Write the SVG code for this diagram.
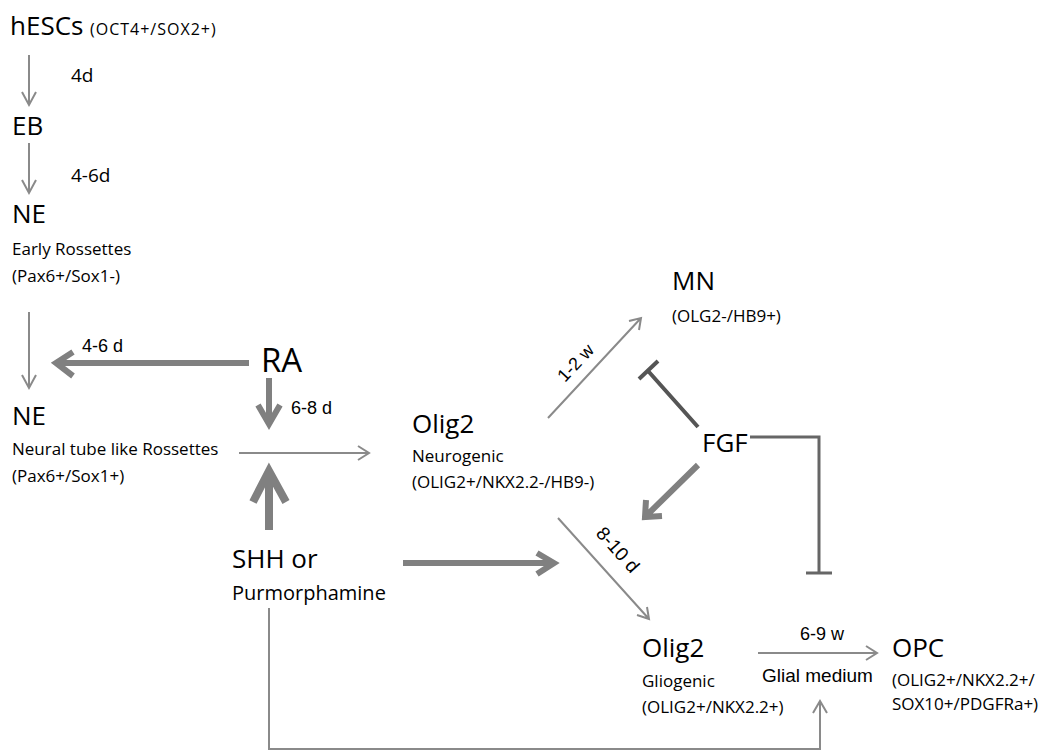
<svg xmlns="http://www.w3.org/2000/svg" width="1044" height="751" viewBox="0 0 1044 751">
<defs>
<style>
.t{font-family:"Open Sans","Noto Sans","DejaVu Sans",sans-serif;fill:#000}
.a{font-family:"Liberation Sans",Arial,sans-serif;fill:#000}
.big{font-size:26px}
.sm{font-size:17px}
.lb{font-size:18px}
.thin{stroke:#8a8a8a;stroke-width:2;fill:none}
.thick{stroke:#808080;stroke-width:6;fill:none}
.thicker{stroke:#808080;stroke-width:8;fill:none}
.inh{stroke:#555;stroke-width:4;fill:none}
.inh2{stroke:#666;stroke-width:3;fill:none}
</style>
</defs>
<rect width="1044" height="751" fill="#fff"/>

<g id="connectors">
  <path class="thin" d="M29 55 V105 M22 92 L29 105 L36 92"/>
  <path class="thin" d="M29 143 V193 M22 180 L29 193 L36 180"/>
  <path class="thin" d="M29 312 V388 M22 375 L29 388 L36 375"/>
  <path class="thick" d="M249 363 H56 M73 352 L56 363 L73 376"/>
  <path class="thick" d="M269 378 V424 M258 405 L269 424 L280 405"/>
  <path class="thin" d="M239 453 H369 M358 446 L369 453 L358 460"/>
  <path class="thicker" d="M269 530 V471 M253 502 L269 471 L286 502"/>
  <path class="thick" d="M403 563 H554 M537 553 L554 563 L537 574"/>
  <path class="thin" d="M269 608 V749 H820 V701 M813 713 L820 701 L827 713"/>
  <path class="thin" d="M548 418 L641 318 M629 321 L641 318 L639 330"/>
  <path class="thin" d="M558 518 L649 619 M637 615 L649 619 L647 607"/>
  <path class="thick" d="M698 465 L645 517 M646 500 L645 517 L662 516"/>
  <path class="inh" d="M698 427 L649 372 M639 379 L658 361"/>
  <path class="inh2" d="M750 437 H819 V573 M806 573 H832"/>
  <path class="thin" d="M758 653 H877 M866 646 L877 653 L866 660"/>
</g>

<g id="node-hESCs">
  <text class="t" x="10" y="35" font-size="26">hESCs</text>
  <text class="t" x="90" y="35" font-size="16" letter-spacing="1">(OCT4+/SOX2+)</text>
</g>
<g id="label-4d"><text class="t" x="71" y="82" font-size="19">4d</text></g>
<g id="node-EB"><text class="t big" x="12" y="135">EB</text></g>
<g id="label-4-6d"><text class="t" x="71" y="182" font-size="19">4-6d</text></g>
<g id="node-NE-early">
  <text class="t big" x="12" y="223">NE</text>
  <text class="t sm" x="12" y="255">Early Rossettes</text>
  <text class="t sm" x="12" y="282">(Pax6+/Sox1-)</text>
</g>
<g id="label-4-6-d"><text class="a lb" x="82" y="352">4-6 d</text></g>
<g id="node-RA"><text class="t" x="261" y="372" font-size="33">RA</text></g>
<g id="label-6-8-d"><text class="a lb" x="291" y="414">6-8 d</text></g>
<g id="node-NE-tube">
  <text class="t big" x="12" y="425">NE</text>
  <text class="t sm" x="12" y="455">Neural tube like Rossettes</text>
  <text class="t sm" x="12" y="482">(Pax6+/Sox1+)</text>
</g>
<g id="node-SHH">
  <text class="t big" x="232" y="568">SHH or</text>
  <text class="t" x="232" y="600" font-size="20">Purmorphamine</text>
</g>
<g id="node-Olig2-neurogenic">
  <text class="t big" x="412" y="433">Olig2</text>
  <text class="t sm" x="412" y="462">Neurogenic</text>
  <text class="t sm" x="412" y="488">(OLIG2+/NKX2.2-/HB9-)</text>
</g>
<g id="node-MN">
  <text class="t big" x="672" y="290">MN</text>
  <text class="t sm" x="672" y="322">(OLG2-/HB9+)</text>
</g>
<g id="label-1-2-w"><text class="a lb" x="580" y="367" text-anchor="middle" transform="rotate(-47 580 367)">1-2 w</text></g>
<g id="node-FGF"><text class="t big" x="702" y="452">FGF</text></g>
<g id="label-8-10-d"><text class="a" font-size="19" x="613" y="554" text-anchor="middle" transform="rotate(48 613 554)">8-10 d</text></g>
<g id="node-Olig2-gliogenic">
  <text class="t big" x="642" y="657">Olig2</text>
  <text class="t sm" x="642" y="687">Gliogenic</text>
  <text class="t sm" x="642" y="713">(OLIG2+/NKX2.2+)</text>
</g>
<g id="label-6-9-w">
  <text class="a lb" x="800" y="640">6-9 w</text>
  <text class="a" font-size="19" x="762" y="682">Glial medium</text>
</g>
<g id="node-OPC">
  <text class="t big" x="892" y="657">OPC</text>
  <text class="t sm" x="892" y="686">(OLIG2+/NKX2.2+/</text>
  <text class="t sm" x="892" y="710">SOX10+/PDGFRa+)</text>
</g>
</svg>
